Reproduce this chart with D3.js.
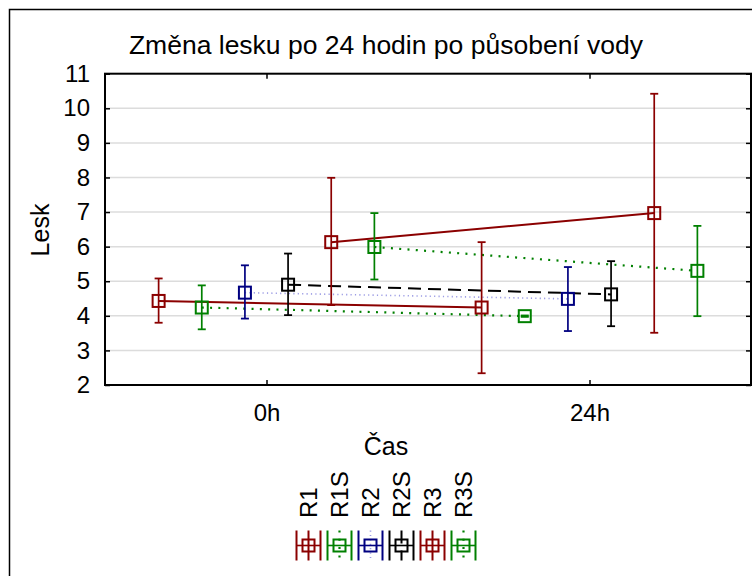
<!DOCTYPE html>
<html><head><meta charset="utf-8">
<script src="https://cdn.jsdelivr.net/npm/d3@7"></script>
<style>
body{margin:0;background:#fff}
svg{display:block;font-family:"Liberation Sans",Arial,sans-serif}
</style>
</head><body><svg id="chart" width="752" height="576"></svg>
<script>
// Categories (time) and series
const categories = ["0h", "24h"];
const seriesNames = ["R1", "R1S", "R2", "R2S", "R3", "R3S"];

// Means and error-bar limits per series, one array per time point
const mean0h   = [4.43, 4.24, 4.67, 4.90, 6.13, 5.99];
const upper0h  = [5.08, 4.88, 5.46, 5.80, 7.99, 6.97];
const lower0h  = [3.80, 3.61, 3.92, 4.02, 4.31, 5.05];
const mean24h  = [4.24, 3.99, 4.49, 4.62, 6.97, 5.30];
const upper24h = [6.13, 4.01, 5.41, 5.58, 10.42, 6.60];
const lower24h = [2.34, 3.97, 3.56, 3.70, 3.51, 3.99];

const yTicks = [2, 3, 4, 5, 6, 7, 8, 9, 10, 11];

// Drawing style for each series
const styles = {
  R1:  {color: "#8b0000", line: "#8b0000", dash: null,      lw: 2},
  R1S: {color: "#008000", line: "#008000", dash: "2,6.3",   lw: 2.2},
  R2:  {color: "#000080", line: "#9c9ce4", dash: "1.2,3.2", lw: 1.6},
  R2S: {color: "#000000", line: "#000000", dash: "13,7",    lw: 2},
  R3:  {color: "#8b0000", line: "#8b0000", dash: null,      lw: 2},
  R3S: {color: "#008000", line: "#008000", dash: "2,6.3",   lw: 2.2}
};

const meanBy = [mean0h, mean24h], upperBy = [upper0h, upper24h], lowerBy = [lower0h, lower24h];
const series = seriesNames.map((name, i) => ({
  name,
  points: categories.map((cat, j) => ({
    name, cat, mean: meanBy[j][i], hi: upperBy[j][i], lo: lowerBy[j][i]
  }))
}));

const svg = d3.select("#chart");
const FONT = 24;
const plot = {left: 105, right: 751, top: 73.7, bottom: 385};

// Outer frame
svg.append("rect").attr("x", 9.5).attr("y", 9.5).attr("width", 900).attr("height", 900)
  .attr("fill", "none").attr("stroke", "#000").attr("stroke-width", 1.5);

const x = d3.scalePoint().domain(categories).range([plot.left, plot.right]).padding(0.5);
const spread = x.step() * 0.334;
const inner = d3.scalePoint().domain(seriesNames).range([-spread, spread]);
const y = d3.scaleLinear().domain([2, 11]).range([plot.bottom, plot.top]);
const px = d => x(d.cat) + inner(d.name);

// Horizontal gridlines
svg.append("g").selectAll("line").data(yTicks.slice(1, -1)).join("line")
  .attr("x1", plot.left).attr("x2", plot.right)
  .attr("y1", d => y(d)).attr("y2", d => y(d))
  .attr("stroke", "#dcdcdc").attr("stroke-width", 1.5);

// Axes with inward ticks on all four sides
function styleAxis(g) {
  g.select(".domain").remove();
  g.selectAll(".tick line").attr("stroke", "#000").attr("stroke-width", 1.5);
  g.selectAll("text").attr("font-size", FONT).attr("fill", "#000").attr("font-family", "Liberation Sans, Arial, sans-serif");
}
svg.append("g").attr("transform", `translate(${plot.left},0)`)
  .call(d3.axisLeft(y).tickValues(yTicks).tickSize(-5).tickPadding(15).tickFormat(d3.format("d")))
  .call(styleAxis);
svg.append("g").attr("transform", `translate(${plot.right},0)`)
  .call(d3.axisRight(y).tickValues(yTicks).tickSize(-5).tickFormat(""))
  .call(styleAxis);
svg.append("g").attr("transform", `translate(0,${plot.bottom})`)
  .call(d3.axisBottom(x).tickSize(-5).tickPadding(19))
  .call(styleAxis);
svg.append("g").attr("transform", `translate(0,${plot.top})`)
  .call(d3.axisTop(x).tickSize(-5).tickFormat(""))
  .call(styleAxis);

// Connecting lines between time points
const lineGen = d3.line().x(px).y(d => y(d.mean));
svg.append("g").selectAll("path").data(series).join("path")
  .attr("d", d => lineGen(d.points))
  .attr("fill", "none")
  .attr("stroke", d => styles[d.name].line)
  .attr("stroke-width", d => styles[d.name].lw)
  .attr("stroke-dasharray", d => styles[d.name].dash);

// Error bars and markers
const pts = series.flatMap(s => s.points);
const eb = svg.append("g").selectAll("g").data(pts).join("g")
  .attr("stroke", d => styles[d.name].color).attr("fill", "none");
eb.append("line").attr("x1", px).attr("x2", px)
  .attr("y1", d => y(d.hi)).attr("y2", d => y(d.lo)).attr("stroke-width", 1.7);
eb.append("line").attr("x1", d => px(d) - 4).attr("x2", d => px(d) + 4)
  .attr("y1", d => y(d.hi)).attr("y2", d => y(d.hi)).attr("stroke-width", 1.8);
eb.append("line").attr("x1", d => px(d) - 4).attr("x2", d => px(d) + 4)
  .attr("y1", d => y(d.lo)).attr("y2", d => y(d.lo)).attr("stroke-width", 1.8);
eb.append("rect").attr("x", d => px(d) - 6).attr("y", d => y(d.mean) - 6)
  .attr("width", 12).attr("height", 12).attr("stroke-width", 2);

// Plot frame
svg.append("rect").attr("x", plot.left).attr("y", plot.top)
  .attr("width", plot.right - plot.left).attr("height", plot.bottom - plot.top)
  .attr("fill", "none").attr("stroke", "#000").attr("stroke-width", 2);

// Titles
svg.append("text").attr("x", 386).attr("y", 45).attr("text-anchor", "middle")
  .attr("dominant-baseline", "central").attr("font-size", 26.5)
  .text("Změna lesku po 24 hodin po působení vody");
svg.append("text").attr("x", 386).attr("y", 446).attr("text-anchor", "middle")
  .attr("dominant-baseline", "central").attr("font-size", 25).text("Čas");
svg.append("text").attr("transform", "translate(40,230) rotate(-90)")
  .attr("text-anchor", "middle").attr("dominant-baseline", "central")
  .attr("font-size", 25).text("Lesk");

// Legend: rotated labels above horizontal error-bar symbols
const lx = d3.scalePoint().domain(seriesNames).range([308.5, 463.5]);
const leg = svg.append("g").selectAll("g").data(seriesNames).join("g")
  .attr("transform", d => `translate(${lx(d)},0)`);
leg.append("text").attr("transform", "translate(0,518) rotate(-90)")
  .attr("text-anchor", "start").attr("dominant-baseline", "central")
  .attr("font-size", FONT).text(d => d);
const sym = leg.append("g").attr("transform", "translate(0,545.5)").attr("fill", "none");
sym.append("line").attr("x1", 0).attr("x2", 0).attr("y1", -15).attr("y2", 15)
  .attr("stroke", d => styles[d].line).attr("stroke-width", d => styles[d].lw)
  .attr("stroke-dasharray", d => styles[d].dash);
sym.append("line").attr("x1", -12).attr("x2", 12).attr("y1", 0).attr("y2", 0)
  .attr("stroke", d => styles[d].color).attr("stroke-width", 1.6);
[-12, 12].forEach(cx => sym.append("line").attr("x1", cx).attr("x2", cx)
  .attr("y1", -15).attr("y2", 15).attr("stroke", d => styles[d].color).attr("stroke-width", 2));
sym.append("rect").attr("x", -6).attr("y", -6).attr("width", 12).attr("height", 12)
  .attr("stroke", d => styles[d].color).attr("stroke-width", 2);
</script>
</body></html>
